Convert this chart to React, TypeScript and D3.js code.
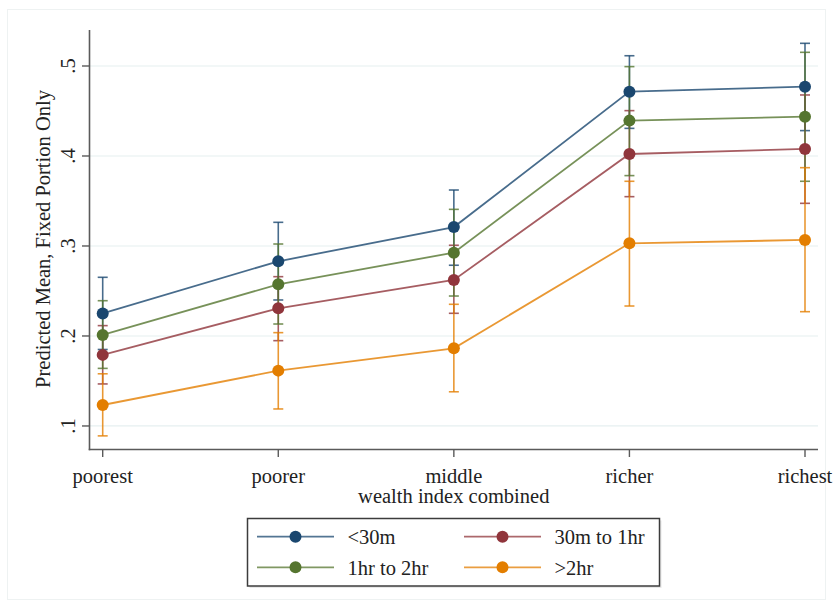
import React from "react";
import * as d3 from "d3";

const categories = ["poorest", "poorer", "middle", "richer", "richest"];
const seriesNames = ["<30m", "30m to 1hr", "1hr to 2hr", ">2hr"];
const seriesColors = ["#1a476f", "#90353b", "#55752f", "#e37e00"];

const meanLt30 = [0.225, 0.283, 0.321, 0.4715, 0.477];
const loLt30 = [0.185, 0.24, 0.2786, 0.4307, 0.4282];
const hiLt30 = [0.2652, 0.3263, 0.3622, 0.5114, 0.5252];

const mean30to1 = [0.179, 0.2307, 0.2622, 0.4022, 0.4078];
const lo30to1 = [0.1467, 0.1948, 0.2252, 0.3548, 0.3474];
const hi30to1 = [0.2115, 0.2659, 0.3008, 0.4504, 0.4678];

const mean1to2 = [0.2011, 0.2574, 0.2926, 0.4393, 0.4437];
const lo1to2 = [0.164, 0.2133, 0.2444, 0.3782, 0.3719];
const hi1to2 = [0.2392, 0.3022, 0.3407, 0.4993, 0.5152];

const meanGt2 = [0.1233, 0.1615, 0.1863, 0.303, 0.3067];
const loGt2 = [0.089, 0.1189, 0.138, 0.2333, 0.227];
const hiGt2 = [0.158, 0.2037, 0.2352, 0.3719, 0.387];

const yTicks = [0.1, 0.2, 0.3, 0.4, 0.5];
const yTickLabels = [".1", ".2", ".3", ".4", ".5"];
const yTitle = "Predicted Mean, Fixed Portion Only";
const xTitle = "wealth index combined";

const series = [
  { name: seriesNames[0], color: seriesColors[0], mean: meanLt30, lo: loLt30, hi: hiLt30 },
  { name: seriesNames[1], color: seriesColors[1], mean: mean30to1, lo: lo30to1, hi: hi30to1 },
  { name: seriesNames[2], color: seriesColors[2], mean: mean1to2, lo: lo1to2, hi: hi1to2 },
  { name: seriesNames[3], color: seriesColors[3], mean: meanGt2, lo: loGt2, hi: hiGt2 },
];

const FONT = "'Liberation Serif', 'Times New Roman', serif";

export default function App() {
  const W = 833, H = 608;
  const plotL = 89.5, plotR = 818, plotT = 30, plotB = 449.5;
  const x = d3.scalePoint<string>().domain(categories).range([102.7, 805]);
  const y = d3.scaleLinear().domain([0.0733, 0.54]).range([450, 30]);
  const line = d3
    .line<number>()
    .x((_, i) => x(categories[i]) as number)
    .y((d) => y(d));
  const axisColor = "#5a5a5a";
  const capW = 5;

  const legendItems = [
    { s: series[0], lx: 257, ty: 536.7 },
    { s: series[1], lx: 464, ty: 536.7 },
    { s: series[2], lx: 257, ty: 567.3 },
    { s: series[3], lx: 464, ty: 567.3 },
  ];

  return (
    <svg
      width={W}
      height={H}
      style={{ position: "absolute", left: 0, top: 0, background: "#fff" }}
      fontFamily={FONT}
    >
      <rect x={0} y={0} width={W} height={H} fill="#fff" />
      <rect x={7.5} y={9.5} width={818} height={590} fill="none" stroke="#eef2f2" strokeWidth={1} />
      {/* grid */}
      {yTicks.map((t) => (
        <line key={"g" + t} x1={plotL} x2={plotR} y1={y(t)} y2={y(t)} stroke="#e6eff0" strokeWidth={1.2} />
      ))}
      {/* axes */}
      <line x1={plotL} x2={plotL} y1={plotT} y2={plotB + 0.75} stroke={axisColor} strokeWidth={1.6} />
      <line x1={plotL - 0.75} x2={plotR} y1={plotB} y2={plotB} stroke={axisColor} strokeWidth={1.6} />
      {yTicks.map((t, i) => (
        <g key={"yt" + t}>
          <line x1={plotL - 7.5} x2={plotL} y1={y(t)} y2={y(t)} stroke={axisColor} strokeWidth={1.4} />
          <text
            transform={`translate(75,${y(t)}) rotate(-90)`}
            textAnchor="middle"
            fontSize={20.5}
            fill="#222"
          >
            {yTickLabels[i]}
          </text>
        </g>
      ))}
      {categories.map((c) => (
        <g key={"xt" + c}>
          <line x1={x(c)} x2={x(c)} y1={plotB} y2={plotB + 7.5} stroke={axisColor} strokeWidth={1.4} />
          <text x={x(c)} y={482.5} textAnchor="middle" fontSize={20.5} fill="#222">
            {c}
          </text>
        </g>
      ))}
      <text x={(plotL + plotR) / 2} y={502.5} textAnchor="middle" fontSize={20.5} fill="#222">
        {xTitle}
      </text>
      <text transform={`translate(50,239) rotate(-90)`} textAnchor="middle" fontSize={20.5} fill="#222">
        {yTitle}
      </text>
      {/* confidence intervals */}
      {series.map((s) => (
        <g key={"ci" + s.name} stroke={s.color} strokeOpacity={0.8} strokeWidth={1.6}>
          {categories.map((c, i) => {
            const cx = x(c) as number;
            return (
              <g key={c}>
                <line x1={cx} x2={cx} y1={y(s.lo[i])} y2={y(s.hi[i])} />
                <line x1={cx - capW} x2={cx + capW} y1={y(s.lo[i])} y2={y(s.lo[i])} />
                <line x1={cx - capW} x2={cx + capW} y1={y(s.hi[i])} y2={y(s.hi[i])} />
              </g>
            );
          })}
        </g>
      ))}
      {/* lines and markers */}
      {series.map((s) => (
        <g key={"ln" + s.name}>
          <path d={line(s.mean) || ""} fill="none" stroke={s.color} strokeOpacity={0.8} strokeWidth={1.8} />
          {s.mean.map((v, i) => (
            <circle key={i} cx={x(categories[i])} cy={y(v)} r={6} fill={s.color} />
          ))}
        </g>
      ))}
      {/* legend */}
      <rect x={249.5} y={520.5} width={412} height={67.5} fill="#e8e8e8" stroke="none" />
      <rect x={247.5} y={518.5} width={412} height={67.5} fill="#fff" stroke="#3c3c3c" strokeWidth={1.5} />
      {legendItems.map(({ s, lx, ty }) => (
        <g key={"lg" + s.name}>
          <line x1={lx} x2={lx + 77} y1={ty} y2={ty} stroke={s.color} strokeOpacity={0.75} strokeWidth={1.8} />
          <circle cx={lx + 38.5} cy={ty} r={6} fill={s.color} />
          <text x={lx + 90.5} y={ty + 7.5} fontSize={20.5} fill="#222">
            {s.name}
          </text>
        </g>
      ))}
    </svg>
  );
}
